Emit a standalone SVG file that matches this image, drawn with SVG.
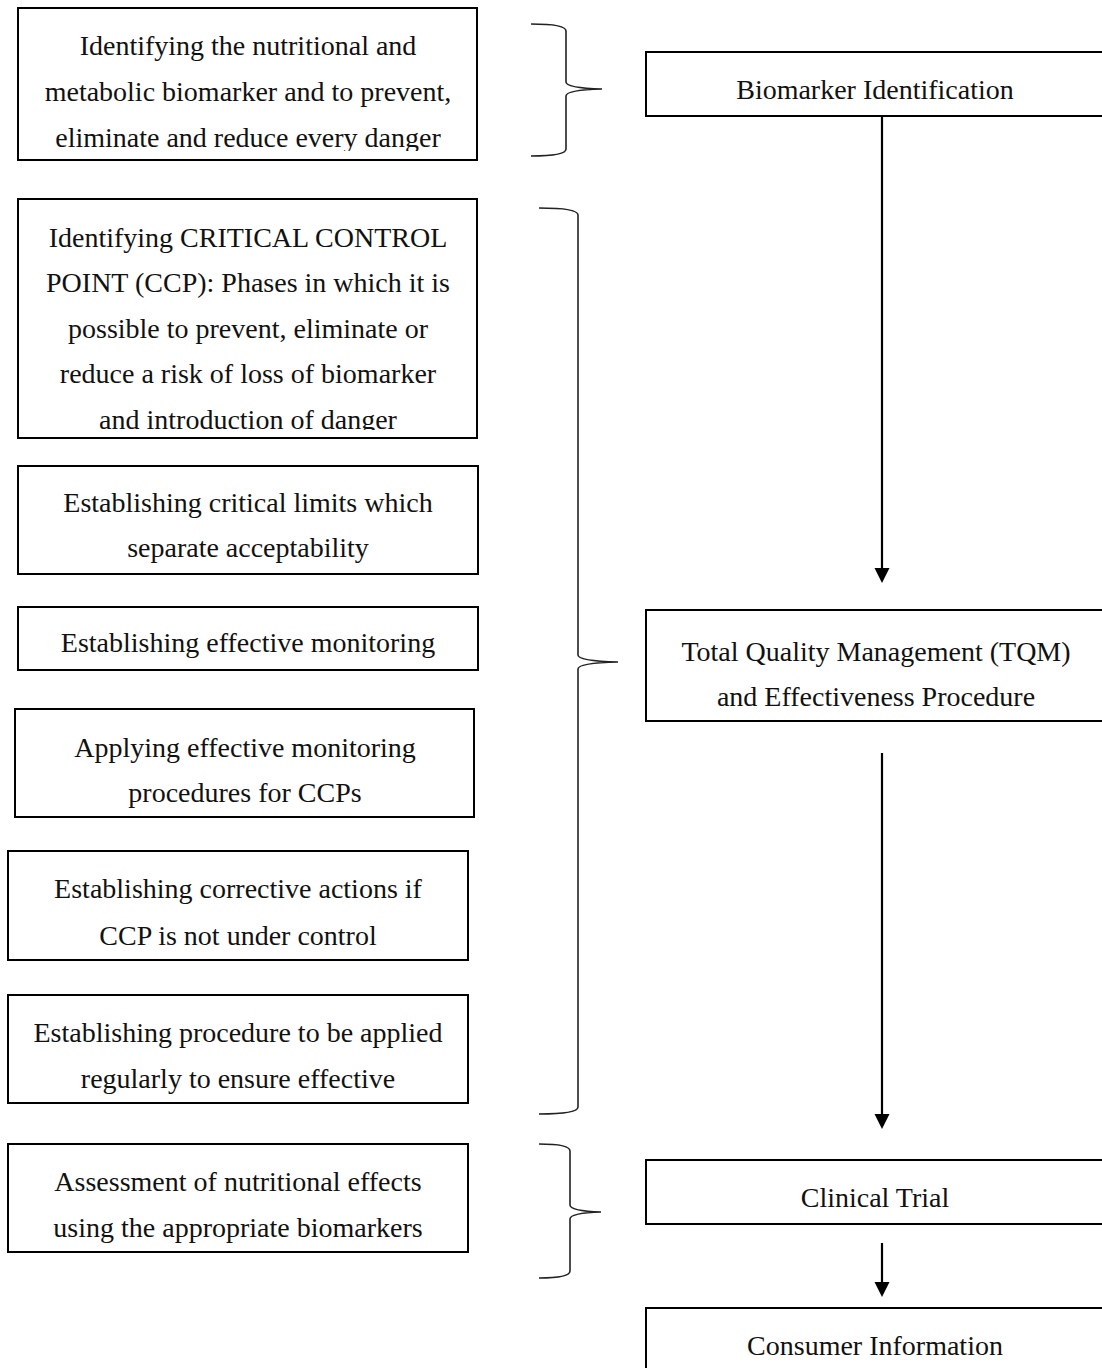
<svg xmlns="http://www.w3.org/2000/svg" width="1102" height="1368" viewBox="0 0 1102 1368">
<style>
.box{fill:#fff;stroke:#000;stroke-width:2}
.t{font-family:"Liberation Serif","Times New Roman",serif;font-size:28px;fill:#111;text-anchor:middle}
.br{fill:none;stroke:#222;stroke-width:1.6}
.ln{stroke:#000;stroke-width:2.2;fill:none}
</style>
<defs>
<marker id="ah" markerWidth="8" markerHeight="8" refX="7" refY="4" orient="auto" markerUnits="userSpaceOnUse" viewBox="0 0 8 8">
<path d="M0,0 L8,4 L0,8 Z" fill="#000"/>
</marker>
<clipPath id="c1"><rect x="18" y="8" width="460" height="143"/></clipPath>
<clipPath id="c2"><rect x="18" y="199" width="460" height="231"/></clipPath>
</defs>
<rect width="1102" height="1368" fill="#fff"/>

<g id="connectors">
<line class="ln" x1="882" y1="117" x2="882" y2="568"/>
<path d="M874.5,568 L889.5,568 L882,583 Z" fill="#000"/>
<line class="ln" x1="882" y1="753" x2="882" y2="1114"/>
<path d="M874.5,1114 L889.5,1114 L882,1129 Z" fill="#000"/>
<line class="ln" x1="882" y1="1243" x2="882" y2="1282"/>
<path d="M874.5,1282 L889.5,1282 L882,1297 Z" fill="#000"/>
</g>

<g id="braces">
<path class="br" d="M531,24 Q566,24 566,31 L566,82 Q566,88 602,89 Q566,90 566,96 L566,149 Q566,156 531,156"/>
<path class="br" d="M539,208 Q578,208 578,215 L578,655 Q578,661 618,662 Q578,663 578,669 L578,1107 Q578,1114 539,1114"/>
<path class="br" d="M539,1144 Q570,1144 570,1151 L570,1205 Q570,1211 601,1212 Q570,1213 570,1219 L570,1271 Q570,1278 539,1278"/>
</g>

<g id="n1">
<rect class="box" x="18" y="8" width="459" height="152"/>
<g clip-path="url(#c1)">
<text class="t" x="248" y="55">Identifying the nutritional and</text>
<text class="t" x="248" y="101">metabolic biomarker and to prevent,</text>
<text class="t" x="248" y="147">eliminate and reduce every danger</text>
</g>
</g>

<g id="n2">
<rect class="box" x="18" y="199" width="459" height="239"/>
<g clip-path="url(#c2)">
<text class="t" x="248" y="247">Identifying CRITICAL CONTROL</text>
<text class="t" x="248" y="292">POINT (CCP): Phases in which it is</text>
<text class="t" x="248" y="338">possible to prevent, eliminate or</text>
<text class="t" x="248" y="383">reduce a risk of loss of biomarker</text>
<text class="t" x="248" y="429">and introduction of danger</text>
</g>
</g>

<g id="n3">
<rect class="box" x="18" y="466" width="460" height="108"/>
<text class="t" x="248" y="512">Establishing critical limits which</text>
<text class="t" x="248" y="557">separate acceptability</text>
</g>

<g id="n4">
<rect class="box" x="18" y="607" width="460" height="63"/>
<text class="t" x="248" y="652">Establishing effective monitoring</text>
</g>

<g id="n5">
<rect class="box" x="15" y="709" width="459" height="108"/>
<text class="t" x="245" y="757">Applying effective monitoring</text>
<text class="t" x="245" y="802">procedures for CCPs</text>
</g>

<g id="n6">
<rect class="box" x="8" y="851" width="460" height="109"/>
<text class="t" x="238" y="898">Establishing corrective actions if</text>
<text class="t" x="238" y="945">CCP is not under control</text>
</g>

<g id="n7">
<rect class="box" x="8" y="995" width="460" height="108"/>
<text class="t" x="238" y="1042">Establishing procedure to be applied</text>
<text class="t" x="238" y="1088">regularly to ensure effective</text>
</g>

<g id="n8">
<rect class="box" x="8" y="1144" width="460" height="108"/>
<text class="t" x="238" y="1191">Assessment of nutritional effects</text>
<text class="t" x="238" y="1237">using the appropriate biomarkers</text>
</g>

<g id="r1">
<rect class="box" x="646" y="52" width="460" height="64"/>
<text class="t" x="875" y="99">Biomarker Identification</text>
</g>

<g id="r2">
<rect class="box" x="646" y="610" width="460" height="111"/>
<text class="t" x="876" y="661">Total Quality Management (TQM)</text>
<text class="t" x="876" y="706">and Effectiveness Procedure</text>
</g>

<g id="r3">
<rect class="box" x="646" y="1160" width="460" height="64"/>
<text class="t" x="875" y="1207">Clinical Trial</text>
</g>

<g id="r4">
<rect class="box" x="646" y="1308" width="460" height="70"/>
<text class="t" x="875" y="1355">Consumer Information</text>
</g>
</svg>
